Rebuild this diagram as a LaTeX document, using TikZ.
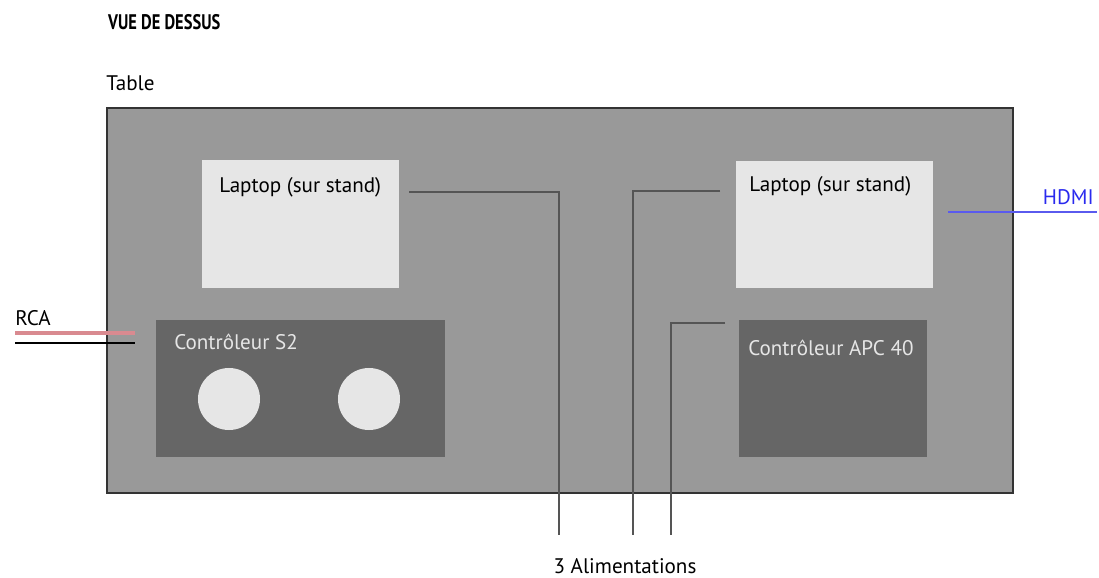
\documentclass[tikz,border=0pt]{standalone}
\usepackage{fontspec}
\setmainfont{PT Sans}
\usepackage{xcolor}
\definecolor{tablegray}{HTML}{999999}
\definecolor{laptopgray}{HTML}{E6E6E6}
\definecolor{ctrlgray}{HTML}{666666}
\definecolor{cablegray}{HTML}{555555}
\definecolor{rcared}{HTML}{D98A90}
\definecolor{hdmiblue}{HTML}{5A5AEE}
\definecolor{hdmitext}{HTML}{2A2AEE}

\tikzset{
	box/.style={shape=rectangle, inner sep=0pt, outer sep=0pt},
	laptop/.style={box, fill=laptopgray, minimum width=4.925cm, minimum height=3.175cm},
	ctrl/.style={box, fill=ctrlgray, minimum height=3.425cm},
	knob/.style={shape=circle, fill=laptopgray, inner sep=0pt, minimum size=1.55cm},
	label/.style={anchor=west, inner sep=0pt, font=\fontsize{15}{18}\selectfont},
	cable/.style={draw=cablegray, line width=1.6pt},
}

\begin{document}
\begin{tikzpicture}[x=0.025cm, y=-0.025cm]
	\useasboundingbox (0,0) rectangle (1099,578);
	% Table and title:
	\node[box, draw=black!80, line width=1.2pt, fill=tablegray, minimum width=22.65cm, minimum height=9.625cm] (table) at (560, 300.5){};
	\node[label, font=\fontsize{15}{18}\selectfont\bfseries, xscale=0.78] (title) at (108, 22){VUE DE DESSUS};
	\node[label] (tabletxt) at (106, 83){Table};
	% Laptops:
	\node[laptop] (lapL) at (300.5, 224){};
	\node[label] (lapLtxt) at (219, 187){Laptop (sur stand)};
	\node[laptop] (lapR) at (834.5, 224.5){};
	\node[label] (lapRtxt) at (749, 186){Laptop (sur stand)};
	% Controllers:
	\node[ctrl, minimum width=7.225cm] (s2) at (300.5, 388.5){};
	\node[label, text=laptopgray] (s2txt) at (174, 342){Contrôleur S2};
	\node[knob] (knobA) at (229, 399){};
	\node[knob] (knobB) at (369, 399){};
	\node[ctrl, minimum width=4.7cm] (apc) at (833, 388.5){};
	\node[label, text=laptopgray] (apctxt) at (748, 348){Contrôleur APC 40};
	% Power cables:
	\coordinate (pwrA0) at (409, 192);
	\coordinate (pwrA1) at (559, 535);
	\coordinate (pwrB0) at (720, 191);
	\coordinate (pwrB1) at (633, 535);
	\coordinate (pwrC0) at (725, 323);
	\coordinate (pwrC1) at (671, 535);
	\draw[cable] (pwrA0) -| (pwrA1);
	\draw[cable] (pwrB0) -| (pwrB1);
	\draw[cable] (pwrC0) -| (pwrC1);
	\node[anchor=center, inner sep=0pt, font=\fontsize{15}{18}\selectfont] (pwrtxt) at (625, 566){3 Alimentations};
	% RCA:
	\node[label] (rcatxt) at (15, 318){RCA};
	\coordinate (rcaR0) at (15, 333);
	\coordinate (rcaR1) at (135, 333);
	\coordinate (rcaK0) at (15, 343);
	\coordinate (rcaK1) at (135, 343);
	\draw[rcared, line width=2.2pt] (rcaR0) -- (rcaR1);
	\draw[black, line width=1.1pt] (rcaK0) -- (rcaK1);
	% HDMI:
	\node[anchor=east, inner sep=0pt, text=hdmitext, font=\fontsize{15}{18}\selectfont] (hdmitxt) at (1094, 197){HDMI};
	\coordinate (hdmi0) at (948, 212);
	\coordinate (hdmi1) at (1097, 212);
	\draw[hdmiblue, line width=1.8pt] (hdmi0) -- (hdmi1);
\end{tikzpicture}
\end{document}
